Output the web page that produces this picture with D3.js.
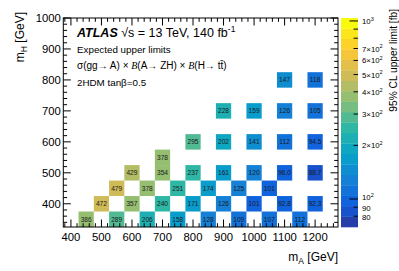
<!DOCTYPE html>
<html><head><meta charset="utf-8">
<script src="https://cdn.jsdelivr.net/npm/d3@7"></script>
<style>body{margin:0;background:#fff}svg{display:block;font-family:"Liberation Sans",Arial,Helvetica,sans-serif}</style>
</head><body>
<svg id="c" width="399" height="271"></svg>
<script>
// ---- data ----
const cellMA = [450,550,650,750,850,950,1050,1150,
                500,600,700,800,900,1000,1100,1200,
                550,650,750,850,950,1050,
                600,700,800,900,1000,1100,1200,
                700,
                800,900,1000,1100,1200,
                900,1000,1100,1200,
                1100,1200];
const cellMH = [350,350,350,350,350,350,350,350,
                400,400,400,400,400,400,400,400,
                450,450,450,450,450,450,
                500,500,500,500,500,500,500,
                550,
                600,600,600,600,600,
                700,700,700,700,
                800,800];
const cellLimit = [386,289,206,158,128,109,107,112,
                   472,357,240,171,126,101,92.8,92.3,
                   479,378,251,174,125,101,
                   429,354,237,161,120,96.0,88.7,
                   378,
                   295,202,141,112,94.5,
                   228,159,126,105,
                   147,118];
const xTickValues = [400,500,600,700,800,900,1000,1100,1200];
const yTickValues = [400,500,600,700,800,900,1000];
const zTickValues = [80,90,100,200,300,400,500,600,700,800,900,1000];
const zTickLabels = {80:["80",""],90:["90",""],100:["10","2"],200:["2×10","2"],300:["3×10","2"],400:["4×10","2"],500:["5×10","2"],600:["6×10","2"],700:["7×10","2"],1000:["10","3"]};
const zMin = 69.6, zMax = 1039, nContours = 20;

// kBird palette
const birdStops = [0,0.125,0.25,0.375,0.5,0.625,0.75,0.875,1];
const birdR = [0.2082,0.0592,0.0780,0.0232,0.1802,0.5301,0.8186,0.9956,0.9764];
const birdG = [0.1664,0.3599,0.5041,0.6419,0.7178,0.7492,0.7328,0.7862,0.9832];
const birdB = [0.5293,0.8684,0.8385,0.7914,0.6425,0.4662,0.3499,0.1968,0.0539];
const sr = d3.scaleLinear().domain(birdStops).range(birdR).clamp(true);
const sg = d3.scaleLinear().domain(birdStops).range(birdG).clamp(true);
const sb = d3.scaleLinear().domain(birdStops).range(birdB).clamp(true);
function bird(f){return d3.rgb(sr(f)*255, sg(f)*255, sb(f)*255).toString();}
const zFrac = d3.scaleLog().domain([zMin,zMax]).range([0,1]).clamp(true);
function bandIndex(v){return Math.min(nContours-1, Math.max(0, Math.floor(zFrac(v)*nContours)));}
function bandColor(i){return bird(Math.min(1,(i+0.99)/nContours));}

const svg = d3.select("#c");
const L=63.3, R=338, T=18, B=227;
const x = d3.scaleLinear().domain([375,1275]).range([L,R]);
const y = d3.scaleLinear().domain([325,1000]).range([B,T]);

// cells
const cells = cellMA.map((m,i)=>({ma:m, mh:cellMH[i], v:cellLimit[i]}));
svg.append("g").selectAll("rect").data(cells).join("rect")
  .attr("x", d=>x(d.ma-25)).attr("y", d=>y(d.mh+25))
  .attr("width", d=>x(d.ma+25)-x(d.ma-25)).attr("height", d=>y(d.mh-25)-y(d.mh+25))
  .attr("fill", d=>bandColor(bandIndex(d.v)));
const fmt = d3.format(".3r");
svg.append("g").selectAll("text").data(cells).join("text")
  .attr("x", d=>x(d.ma)).attr("y", d=>y(d.mh)+2.3)
  .attr("text-anchor","middle").attr("font-size",6.6).attr("fill","#1a1a1a")
  .text(d=>fmt(d.v));

// frame and ticks
const ax = svg.append("g").attr("stroke","#000").attr("stroke-width",1).attr("fill","none");
ax.append("rect").attr("x",L).attr("y",T).attr("width",R-L).attr("height",B-T);
const xMinor = d3.range(380,1275,20), yMinor = d3.range(340,1001,20);
xMinor.forEach(v=>{const major = v%100===0; const len = major?7.5:3.8;
  ax.append("line").attr("x1",x(v)).attr("x2",x(v)).attr("y1",B).attr("y2",B-len);
  ax.append("line").attr("x1",x(v)).attr("x2",x(v)).attr("y1",T).attr("y2",T+len);});
yMinor.forEach(v=>{const major = v%100===0; const len = major?7.5:3.8;
  ax.append("line").attr("y1",y(v)).attr("y2",y(v)).attr("x1",L).attr("x2",L+len);
  ax.append("line").attr("y1",y(v)).attr("y2",y(v)).attr("x1",R).attr("x2",R-len);});

svg.append("g").selectAll("text").data(xTickValues).join("text")
  .attr("x",d=>x(d)).attr("y",240.5).attr("text-anchor","middle").attr("font-size",11.3).text(d=>d);
svg.append("g").selectAll("text").data(yTickValues).join("text")
  .attr("x",L-2.5).attr("y",d=>y(d)+4).attr("text-anchor","end").attr("font-size",11.3).text(d=>d);

// axis titles
const xt = svg.append("text").attr("x",R).attr("y",261).attr("text-anchor","end").attr("font-size",12);
xt.append("tspan").text("m");
xt.append("tspan").attr("font-size",8.5).attr("dy",3).text("A");
xt.append("tspan").attr("dy",-3).text(" [GeV]");
const yt = svg.append("text").attr("transform","translate(24,12) rotate(-90)").attr("text-anchor","end").attr("font-size",12);
yt.append("tspan").text("m");
yt.append("tspan").attr("font-size",8.5).attr("dy",3).text("H");
yt.append("tspan").attr("dy",-3).text(" [GeV]");

// colour bar
const CL=341, CR=358;
const zy = d3.scaleLog().domain([zMin,zMax]).range([B,T]);
const bands = d3.range(nContours);
const lz0 = Math.log10(zMin), lz1 = Math.log10(zMax);
svg.append("g").selectAll("rect").data(bands).join("rect")
  .attr("x",CL).attr("width",CR-CL)
  .attr("y",i=>zy(Math.pow(10,lz0+(i+1)*(lz1-lz0)/nContours)))
  .attr("height",i=>zy(Math.pow(10,lz0+i*(lz1-lz0)/nContours))-zy(Math.pow(10,lz0+(i+1)*(lz1-lz0)/nContours))+0.3)
  .attr("fill",i=>bandColor(i));
const cz = svg.append("g").attr("stroke","#000").attr("stroke-width",1);
zTickValues.forEach(v=>{const len=(v===100||v===1000)?8.5:4.5;
  cz.append("line").attr("x1",CR).attr("x2",CR-len).attr("y1",zy(v)).attr("y2",zy(v));});
const zShift = {100:-1.8, 90:0.6, 80:0.6};
zTickValues.filter(v=>zTickLabels[v]).forEach(v=>{
  const lab = zTickLabels[v];
  const t = svg.append("text").attr("x",362).attr("y",zy(v)+3+(zShift[v]||0)).attr("font-size",7.8);
  t.append("tspan").text(lab[0]);
  if(lab[1]) t.append("tspan").attr("font-size",5.5).attr("dy",-3.3).text(lab[1]);
});
svg.append("text").attr("transform","translate(397,9) rotate(-90)").attr("text-anchor","end")
  .attr("font-size",10.2).text("95% CL upper limit [fb]");

// labels
const t1 = svg.append("text").attr("x",77).attr("y",37).attr("font-size",12.5);
t1.append("tspan").attr("font-weight","bold").attr("font-style","italic").text("ATLAS");
t1.append("tspan").text(" \u221As = 13 TeV, 140 fb");
t1.append("tspan").attr("font-size",8.5).attr("dy",-5).text("-1");
svg.append("text").attr("x",77).attr("y",52.5).attr("font-size",9.8).text("Expected upper limits");
const t3 = svg.append("text").attr("x",77).attr("y",69).attr("font-size",10);
t3.append("tspan").text("\u03C3(gg\u2192 A) \u00D7  ");
t3.append("tspan").attr("font-family","Liberation Serif, serif").attr("font-style","italic").text("B");
t3.append("tspan").text("(A\u2192 ZH) \u00D7  ");
t3.append("tspan").attr("font-family","Liberation Serif, serif").attr("font-style","italic").text("B");
t3.append("tspan").text("(H\u2192 t\u0074\u0304)");
svg.append("text").attr("x",77).attr("y",86).attr("font-size",9.8).text("2HDM tan\u03B2=0.5");
</script>
</body></html>
